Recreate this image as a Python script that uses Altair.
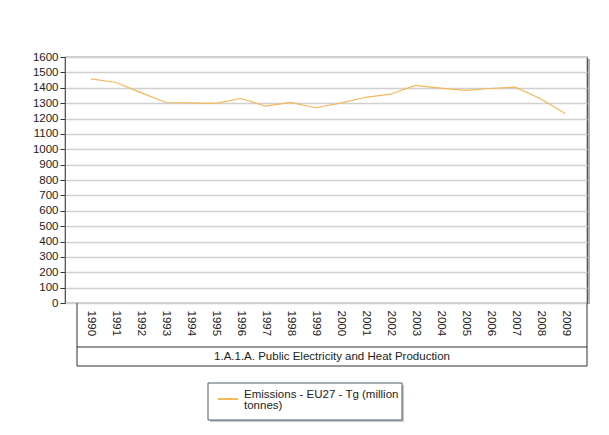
import altair as alt
import pandas as pd

years = list(range(1990, 2010))
emissions = [1458, 1434, 1368, 1304, 1302, 1298, 1330, 1280, 1305, 1270,
             1300, 1338, 1358, 1415, 1398, 1383, 1395, 1404, 1330, 1232]
series_name = "Emissions - EU27 - Tg (million tonnes)"
legend_lines = ["Emissions - EU27 - Tg (million", "tonnes)"]
category_label = "1.A.1.A. Public Electricity and Heat Production"
y_ticks = list(range(0, 1700, 100))

df = pd.DataFrame({"Year": years, "Value": emissions, "Series": [series_name] * len(years)})

W, H = 522, 246
FONT = "Liberation Sans"
LINE_COLOR = "#f3b85a"

line = alt.Chart(df).mark_line(strokeWidth=1.2, color=LINE_COLOR).encode(
    x=alt.X("Year:Q",
            scale=alt.Scale(domain=[1988.96, 2009.88], nice=False, zero=False),
            axis=alt.Axis(values=years, format="d", labelAngle=90, labelAlign="left",
                          labelBaseline="middle", labelPadding=7, ticks=False, domain=False,
                          grid=False, title=None, labelFontSize=11.5, labelColor="#222",
                          labelFont=FONT)),
    y=alt.Y("Value:Q",
            scale=alt.Scale(domain=[0, 1600], nice=False),
            axis=alt.Axis(values=y_ticks, format="d", title=None, labelFontSize=11.5,
                          labelColor="#222", labelFont=FONT, tickSize=5, tickColor="#333",
                          domain=False, gridColor="#d0d0d0", gridWidth=1.5, labelPadding=2)),
)

deco = pd.DataFrame({"d": [0]})
box_color = "#333"
left_rule = alt.Chart(deco).mark_rule(color=box_color).encode(
    x=alt.value(12), y=alt.value(H), y2=alt.value(309))
right_rule = alt.Chart(deco).mark_rule(color=box_color).encode(
    x=alt.value(W), y=alt.value(H), y2=alt.value(309))
mid_rule = alt.Chart(deco).mark_rule(color=box_color).encode(
    x=alt.value(12), x2=alt.value(W), y=alt.value(290))
bot_rule = alt.Chart(deco).mark_rule(color=box_color).encode(
    x=alt.value(12), x2=alt.value(W), y=alt.value(309))
cat_text = alt.Chart(deco).mark_text(fontSize=11.5, font=FONT, color="#222",
                                     baseline="middle").encode(
    x=alt.value((12 + W) / 2), y=alt.value(299.5), text=alt.value(category_label))

shadow_right = alt.Chart(deco).mark_rule(color="#b0b0b0", strokeWidth=2).encode(
    x=alt.value(W + 2), y=alt.value(2), y2=alt.value(H + 1))

# legend
leg_shadow = alt.Chart(deco).mark_rect(color="#c8c8c8").encode(
    x=alt.value(145), x2=alt.value(339), y=alt.value(328), y2=alt.value(365))
leg_box = alt.Chart(deco).mark_rect(fill="white", stroke="#4a5a6a", strokeWidth=1).encode(
    x=alt.value(143), x2=alt.value(337), y=alt.value(326), y2=alt.value(363))
leg_sym = alt.Chart(deco).mark_rule(color=LINE_COLOR, strokeWidth=2).encode(
    x=alt.value(153), x2=alt.value(173), y=alt.value(342))
leg_text = alt.Chart(deco).mark_text(fontSize=11.5, font=FONT, color="#222", align="left",
                                     baseline="top", lineHeight=11.5).encode(
    x=alt.value(179), y=alt.value(331.5), text=alt.value(legend_lines))

chart = alt.layer(line, left_rule, right_rule, mid_rule, bot_rule, cat_text, shadow_right,
                  leg_shadow, leg_box, leg_sym, leg_text).properties(
    width=W, height=H,
    autosize=alt.AutoSizeParams(type="none"),
    padding={"left": 57, "top": 49, "right": 14, "bottom": 126},
    background="white",
).configure_view(stroke="#35475a", strokeWidth=1.2)

chart.save("out.html", embed_options={"renderer": "svg", "actions": False})
